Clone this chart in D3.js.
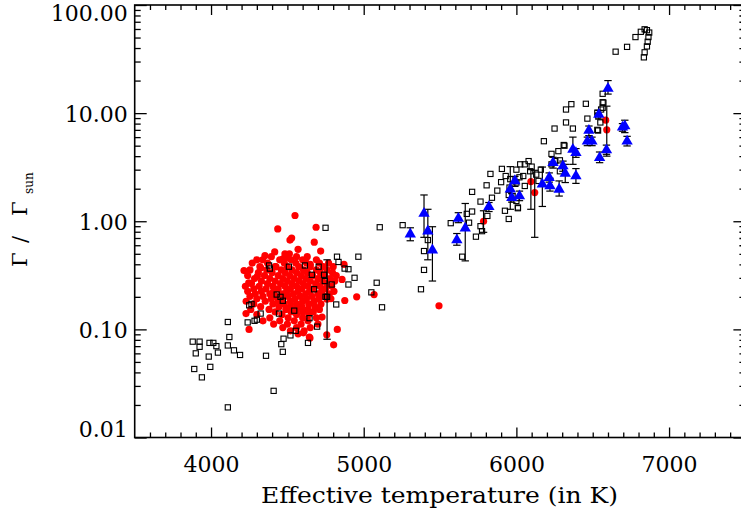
<!DOCTYPE html>
<html>
<head>
<meta charset="utf-8">
<script src="https://cdn.jsdelivr.net/npm/d3@7"></script>
<style>
  body { margin: 0; background: #fff; }
  text { font-family: "DejaVu Serif", serif; fill: #000; }
</style>
</head>
<body>
<svg id="chart" width="741" height="514"></svg>
<script>
// ---- data: [Teff (K), Gamma / Gamma_sun] ----
var squares = [
  [3880,0.077],[3925,0.077],[3925,0.069],[3900,0.060],[3890,0.043],[3940,0.036],
  [3985,0.056],[3995,0.045],[3990,0.075],[4015,0.075],[4035,0.070],[4045,0.061],
  [4110,0.117],[4120,0.085],[4110,0.071],[4150,0.064],[4190,0.058],[4110,0.019],
  [4240,0.116],[4250,0.167],[4265,0.172],[4285,0.120],[4300,0.123],[4325,0.140],
  [4360,0.057],[4380,0.39],[4385,0.365],[4430,0.21],[4455,0.20],[4470,0.184],
  [4445,0.14],[4410,0.027],[4510,0.38],[4615,0.39],[4705,0.38],[4545,0.149],
  [4475,0.082],[4460,0.073],[4470,0.062],[4520,0.088],[4555,0.097],[4645,0.127],
  [4695,0.106],[4635,0.075],[4660,0.32],[4675,0.235],[4740,0.32],[4745,0.28],
  [4750,0.20],[4760,0.20],[4790,0.26],[4825,0.47],[4835,0.42],[4875,0.365],
  [4900,0.36],[4940,0.30],[4900,0.26],[4820,0.17],[4965,0.47],[5085,0.27],
  [5050,0.22],[5120,0.16],[4750,0.87],[5105,0.88],
  [5255,0.92],[5420,0.67],[5395,0.53],[5395,0.355],[5375,0.235],[5570,0.96],
  [5675,1.17],[5710,1.23],[5690,0.97],[5645,0.47],[5735,0.72],[5765,0.90],
  [5775,0.81],[5810,1.12],[5765,1.52],[5710,1.87],[5840,1.65],[5875,1.92],
  [5805,2.15],[5925,1.25],[5950,1.05],[6010,1.32],[5950,1.75],[5830,2.74],
  [5905,3.05],[5930,2.62],[5955,2.05],[6000,3.0],[6025,3.36],[6055,3.36],
  [6080,3.6],[6090,2.9],[6045,2.62],[6000,2.28],[5975,1.71],[6010,1.34],
  [6000,1.54],[6055,2.12],[6145,2.36],[5900,2.3],[5960,2.45],[6020,2.55],
  [6100,3.2],[6130,2.7],[6160,3.0],
  [6230,4.2],[6275,4.45],[6315,5.0],[6285,3.66],[6255,3.6],[6180,5.5],
  [6250,7.2],[6325,8.2],[6370,7.2],[6325,10.8],[6360,12.1],[6455,12.2],
  [6465,8.9],[6535,6.9],[6530,10.1],[6555,10.8],[6565,12.6],[6285,2.9],
  [6230,3.36],[6310,5.07],[6535,9.5],[6565,11.2],[6550,8.2],[6530,7.0],
  [6565,15.1],[6570,12.5],
  [6650,37],[6725,41],[6780,50.5],[6815,56.5],[6840,59.6],[6855,58.5],
  [6870,55.6],[6865,50.5],[6860,45.7],[6855,41.4],[6840,36.5],[6835,32.8]
];

var redDots = [
  [4550,1.13],[4437,0.85],[4688,0.88],[4528,0.70],[4517,0.67],[4676,0.64],
  [4570,0.55],[4417,0.52],[4718,0.53],[4484,0.50],[4513,0.50],[4353,0.48],
  [4338,0.44],[4471,0.45],[4498,0.46],[4216,0.35],[4325,0.37],[4425,0.38],
  [4650,0.40],[4871,0.40],[4303,0.31],[4247,0.27],[4858,0.29],[4954,0.20],
  [5068,0.21],[4876,0.185],[4229,0.14],[4249,0.10],[4827,0.10],[4727,0.13],
  [4758,0.089],[4803,0.072],[4644,0.085],[4605,0.093],[4648,0.083],[5493,0.165],
  [6585,8.6],
  // dense core
  [4395,0.47],[4560,0.47],[4630,0.47],
  [4300,0.44],[4450,0.44],[4525,0.44],[4600,0.44],[4690,0.44],
  [4270,0.41],[4370,0.41],[4480,0.41],[4555,0.41],[4625,0.41],[4710,0.41],[4770,0.41],
  [4320,0.38],[4420,0.38],[4500,0.38],[4575,0.38],[4650,0.38],[4735,0.38],[4800,0.38],
  [4255,0.355],[4365,0.355],[4460,0.355],[4530,0.355],[4605,0.355],[4690,0.355],[4760,0.355],
  [4310,0.335],[4400,0.335],[4485,0.335],[4560,0.335],[4630,0.335],[4715,0.335],[4795,0.335],
  [4240,0.315],[4350,0.315],[4440,0.315],[4515,0.315],[4590,0.315],[4665,0.315],[4745,0.315],[4820,0.315],
  [4285,0.295],[4385,0.295],[4470,0.295],[4545,0.295],[4620,0.295],[4700,0.295],[4780,0.295],
  [4330,0.28],[4420,0.28],[4500,0.28],[4575,0.28],[4650,0.28],[4730,0.28],[4810,0.28],
  [4265,0.265],[4370,0.265],[4455,0.265],[4530,0.265],[4605,0.265],[4685,0.265],[4760,0.265],
  [4225,0.25],[4315,0.25],[4405,0.25],[4485,0.25],[4560,0.25],[4635,0.25],[4715,0.25],[4790,0.25],
  [4280,0.237],[4360,0.237],[4440,0.237],[4520,0.237],[4595,0.237],[4670,0.237],[4750,0.237],
  [4240,0.225],[4330,0.225],[4410,0.225],[4495,0.225],[4570,0.225],[4645,0.225],[4725,0.225],[4805,0.225],
  [4290,0.213],[4385,0.213],[4465,0.213],[4540,0.213],[4620,0.213],[4700,0.213],[4775,0.213],
  [4255,0.202],[4340,0.202],[4425,0.202],[4505,0.202],[4585,0.202],[4660,0.202],[4740,0.202],
  [4300,0.192],[4395,0.192],[4470,0.192],[4550,0.192],[4625,0.192],[4705,0.192],[4785,0.192],
  [4230,0.182],[4355,0.182],[4440,0.182],[4520,0.182],[4600,0.182],[4675,0.182],
  [4280,0.172],[4405,0.172],[4480,0.172],[4560,0.172],[4640,0.172],[4720,0.172],
  [4325,0.162],[4445,0.162],[4520,0.162],[4595,0.162],[4680,0.162],
  [4260,0.153],[4380,0.153],[4490,0.153],[4560,0.153],[4635,0.153],[4710,0.153],
  [4420,0.145],[4525,0.145],[4600,0.145],[4670,0.145],
  [4300,0.137],[4465,0.137],[4560,0.137],[4640,0.137],
  [4385,0.128],[4505,0.128],[4600,0.128],[4690,0.128],
  [4340,0.12],[4450,0.12],[4545,0.12],[4635,0.12],
  [4410,0.112],[4500,0.112],[4590,0.112],[4700,0.112],
  [4470,0.104],[4560,0.104],[4650,0.104],
  [4520,0.097],[4610,0.097],[4570,0.091]
];

// [Teff, Gamma, lower, upper]
var redBars = [
  [4760,0.19,0.081,0.44],[5785,1.0,0.79,1.25],[6095,2.33,1.29,3.0],
  [6120,1.84,0.71,2.96],[6592,7.0,4.0,11.6]
];

var triangles = [
  [5305,0.76,0.66,0.87],[5395,1.18,0.71,1.75],[5420,0.81,0.44,1.29],[5450,0.54,0.28,0.89],
  [5620,1.06,0.97,1.20],[5610,0.67,0.60,0.77],[5665,0.86,0.43,1.46],[5820,1.36,1.23,1.49],
  [5960,1.98,1.29,3.2],[5990,2.36,2.1,2.6],[5970,1.65,1.5,1.8],[6020,1.71,1.55,1.9],
  [6170,2.20,1.37,3.17],[6215,2.53,2.3,2.8],[6220,2.12,1.9,2.5],[6280,1.97,1.71,2.36],
  [6240,3.48,3.1,3.9],[6320,2.76,2.28,3.36],[6390,2.62,2.24,3.07],[6305,3.24,2.9,3.6],
  [6370,4.60,3.36,6.0],[6390,4.30,3.9,4.7],[6475,6.9,6.2,7.6],[6465,5.5,5.0,6.0],
  [6495,5.5,5.0,6.0],[6545,3.87,3.48,4.37],[6590,4.56,4.16,5.06],[6540,9.7,8.8,10.6],
  [6695,7.4,6.8,8.0],[6710,7.6,6.6,8.6],[6725,5.5,4.97,6.1],[6600,16.9,15,20]
];

var xMajor = [4000, 5000, 6000, 7000];
var yMajor = [0.01, 0.1, 1, 10, 100];

// ---- layout ----
var svg = d3.select("#chart");
var x = d3.scaleLinear().domain([3500, 7500]).range([134.7, 745.4]);
var y = d3.scaleLog().domain([0.01, 100]).range([437.5, 5]);

var xMinor = d3.range(3600, 7500, 100).filter(function(v){ return v % 1000 !== 0; });
var yMinor = [];
[0.01, 0.1, 1, 10].forEach(function(d){
  for (var k = 2; k <= 9; k++) yMinor.push(d * k);
});

function styleAxis(g) {
  g.select(".domain").remove();
  g.selectAll("line").attr("stroke", "#000").attr("stroke-width", 1.3);
  g.selectAll("text").style("font-family", "DejaVu Serif").style("font-size", "22px");
}

var H = y.range()[0], T = y.range()[1], L = x.range()[0], R = x.range()[1];

// bottom
svg.append("g").attr("transform", "translate(0," + H + ")")
  .call(d3.axisBottom(x).tickValues(xMajor).tickSize(-10).tickSizeOuter(0).tickPadding(18.5).tickFormat(d3.format("d")))
  .call(styleAxis);
svg.append("g").attr("transform", "translate(0," + H + ")")
  .call(d3.axisBottom(x).tickValues(xMinor).tickSize(-5).tickSizeOuter(0).tickFormat(""))
  .call(styleAxis);
// top
svg.append("g").attr("transform", "translate(0," + T + ")")
  .call(d3.axisTop(x).tickValues(xMajor).tickSize(-10).tickSizeOuter(0).tickFormat(""))
  .call(styleAxis);
svg.append("g").attr("transform", "translate(0," + T + ")")
  .call(d3.axisTop(x).tickValues(xMinor).tickSize(-5).tickSizeOuter(0).tickFormat(""))
  .call(styleAxis);
// left
var yl = svg.append("g").attr("transform", "translate(" + L + ",0)")
  .call(d3.axisLeft(y).tickValues(yMajor).tickSize(-12).tickSizeOuter(0).tickPadding(7).tickFormat(d3.format(".2f")))
  .call(styleAxis);
yl.selectAll(".tick text").attr("dy", function(d){
  if (d === 100) return "0.7em";
  if (d === 0.01) return "-0.05em";
  return "0.38em";
});
svg.append("g").attr("transform", "translate(" + L + ",0)")
  .call(d3.axisLeft(y).tickValues(yMinor).tickSize(-6).tickSizeOuter(0).tickFormat(""))
  .call(styleAxis);
// right
svg.append("g").attr("transform", "translate(" + R + ",0)")
  .call(d3.axisRight(y).tickValues(yMajor).tickSize(-12).tickSizeOuter(0).tickFormat(""))
  .call(styleAxis);
svg.append("g").attr("transform", "translate(" + R + ",0)")
  .call(d3.axisRight(y).tickValues(yMinor).tickSize(-6).tickSizeOuter(0).tickFormat(""))
  .call(styleAxis);

// frame
svg.append("rect")
  .attr("x", L).attr("y", T).attr("width", R - L).attr("height", H - T)
  .attr("fill", "none").attr("stroke", "#000").attr("stroke-width", 1.6);

// titles
svg.append("text")
  .attr("x", 261).attr("y", 503)
  .attr("textLength", 357).attr("lengthAdjust", "spacingAndGlyphs")
  .style("font-size", "22px")
  .text("Effective temperature (in K)");

// rotated: screen y = 220 - local x
var yt = svg.append("text")
  .attr("transform", "translate(27,220) rotate(-90)")
  .style("font-size", "21px");
yt.append("tspan").attr("x", -47).text("\u0393");
yt.append("tspan").attr("x", -23).text("/");
yt.append("tspan").attr("x", 4).text("\u0393");
yt.append("tspan").attr("x", 26).attr("dy", 6).style("font-size", "12px").text("sun");

// ---- marks ----
var plot = svg.append("g");

plot.selectAll("circle.red")
  .data(redDots.concat(redBars))
  .enter().append("circle")
  .attr("class", "red")
  .attr("cx", function(d){ return x(d[0]); })
  .attr("cy", function(d){ return y(d[1]); })
  .attr("r", 3.6)
  .attr("fill", "#ff0000");

plot.selectAll("rect.sq")
  .data(squares)
  .enter().append("rect")
  .attr("class", "sq")
  .attr("x", function(d){ return x(d[0]) - 2.6; })
  .attr("y", function(d){ return y(d[1]) - 2.6; })
  .attr("width", 5.2).attr("height", 5.2)
  .attr("fill", "none").attr("stroke", "#000").attr("stroke-width", 1.1);

// error bars (red and blue)
var bars = redBars.concat(triangles);
var eb = plot.selectAll("g.eb").data(bars).enter().append("g").attr("class", "eb")
  .attr("stroke", "#000").attr("stroke-width", 1.2);
eb.append("line")
  .attr("x1", function(d){ return x(d[0]); }).attr("x2", function(d){ return x(d[0]); })
  .attr("y1", function(d){ return y(d[2]); }).attr("y2", function(d){ return y(d[3]); });
eb.append("line")
  .attr("x1", function(d){ return x(d[0]) - 3.7; }).attr("x2", function(d){ return x(d[0]) + 3.7; })
  .attr("y1", function(d){ return y(d[2]); }).attr("y2", function(d){ return y(d[2]); });
eb.append("line")
  .attr("x1", function(d){ return x(d[0]) - 3.7; }).attr("x2", function(d){ return x(d[0]) + 3.7; })
  .attr("y1", function(d){ return y(d[3]); }).attr("y2", function(d){ return y(d[3]); });

var tri = d3.symbol().type(d3.symbolTriangle).size(56);
plot.selectAll("path.tri")
  .data(triangles)
  .enter().append("path")
  .attr("class", "tri")
  .attr("d", tri)
  .attr("transform", function(d){ return "translate(" + x(d[0]) + "," + y(d[1]) + ")"; })
  .attr("fill", "#0000ff");
</script>
</body>
</html>
